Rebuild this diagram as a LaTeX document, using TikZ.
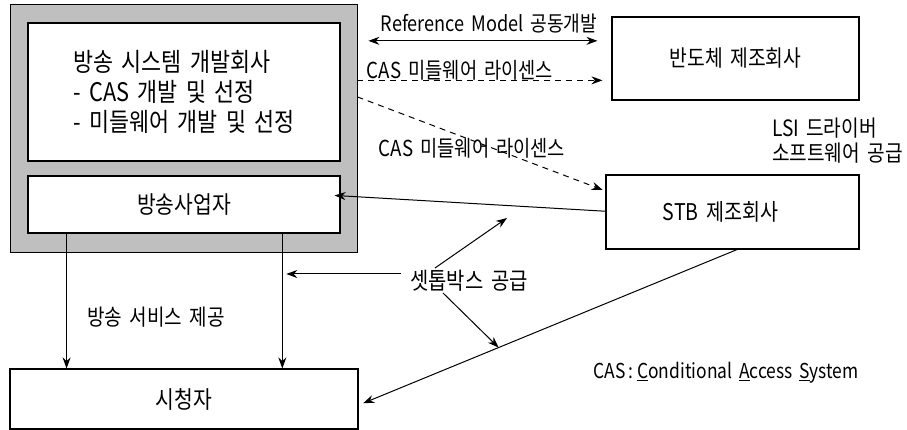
\documentclass[tikz,border=0pt]{standalone}
\usepackage{fontspec}
\setmainfont{Noto Sans CJK KR}[FakeStretch=0.85, WordSpace=1.7]
\usetikzlibrary{arrows.meta,calc}

\begin{document}
\begin{tikzpicture}[x=1pt,y=-1pt,
  box/.style={draw, line width=1.1pt, fill=white, inner sep=0pt},
  shade/.style={draw, line width=0.8pt, fill=black!25, inner sep=0pt},
  txt/.style={inner sep=0pt},
  fs/.style={font=\fontsize{#1}{#1}\selectfont},
  arr/.style={line width=1pt, -{Stealth[length=11pt,width=8pt]}},
  dbl/.style={line width=1pt, {Stealth[length=11pt,width=8pt]}-{Stealth[length=11pt,width=8pt]}},
  dsh/.style={line width=1pt, dash pattern=on 6pt off 5pt, -{Stealth[length=11pt,width=8pt]}}
]
\useasboundingbox (0,0) rectangle (907,430);
\fill[white] (0,0) rectangle (907,430);

% broadcasting side: shaded frame with two boxes
\node[shade, minimum width=347pt, minimum height=248pt] (frame) at (183.5,128) {};
\node[box, minimum width=312pt, minimum height=138pt, align=left,
      font=\fontsize{25.6}{30}\selectfont] (sys) at (184,92)
  {방송 시스템 개발회사\\- CAS 개발 및 선정\\- 미들웨어 개발 및 선정};
\node[box, minimum width=312pt, minimum height=57pt, fs=24] (bcast) at (184,204.5) {방송사업자};

% other parties
\node[box, minimum width=247pt, minimum height=83pt, fs=22.7] (semi) at (735.5,58.5) {반도체 제조회사};
\node[box, minimum width=253pt, minimum height=74pt, fs=23] (stb) at (732.5,212) {STB 제조회사\hspace*{24pt}};
\node[box, minimum width=348pt, minimum height=60pt, fs=24] (viewer) at (184,399) {시청자};

% joint development
\coordinate (rmR) at ($(semi.north west)!0.29!(semi.south west)$);
\draw[dbl, shorten <=11pt, shorten >=14pt] (frame.east |- rmR) -- (rmR);
\node[txt, fs=21.3] (rmlbl) at (489,24) {Reference Model 공동개발};

% licence to the chip maker
\coordinate (licR) at ($(semi.north west)!0.76!(semi.south west)$);
\draw[dsh, shorten >=9pt] (frame.east |- licR) -- (licR);
\node[txt, fs=22] (liclbl) at (460,70) {CAS 미들웨어 라이센스};

% licence to the set-top box maker
\coordinate (dA) at ($(frame.north east)!0.375!(frame.south east)$);
\coordinate (dB) at ($(stb.north west)!0.22!(stb.south west)$);
\draw[dsh, shorten >=3pt] (dA) -- (dB);
\node[txt, fs=22] (lic2lbl) at (472,148) {CAS 미들웨어 라이센스};

% set-top box maker back to the broadcaster
\coordinate (rA) at ($(stb.north west)!0.49!(stb.south west)$);
\coordinate (rB) at ($(bcast.north east)!0.35!(bcast.south east)$);
\draw[arr, shorten >=-6pt] (rA) -- (rB);

% service to the viewer
\coordinate (v1) at ($(bcast.south west)!0.125!(bcast.south east)$);
\coordinate (v2) at ($(bcast.south west)!0.814!(bcast.south east)$);
\draw[arr] (v1) -- (v1 |- viewer.north);
\draw[arr] (v2) -- (v2 |- viewer.north);
\node[txt, fs=22.4] (svclbl) at (156,317) {방송 서비스 제공};

% set-top box maker to the viewer
\coordinate (sA) at ($(stb.south west)!0.518!(stb.south east)$);
\coordinate (sB) at ($(viewer.north east)!0.6!(viewer.south east)$);
\draw[arr, shorten >=5pt] (sA) -- (sB);
\coordinate (hit) at ($(sA)!0.63!(sB)$);

% set-top box supply
\node[txt, fs=23.4] (supply) at (469,281) {셋톱박스 공급};
\coordinate (sL) at ([xshift=-9pt,yshift=7pt]supply.west);
\draw[arr, shorten >=4pt] (sL) -- (v2 |- sL);
\coordinate (sU) at ([xshift=-34pt,yshift=13pt]supply.center);
\coordinate (upEnd) at (507,218);
\draw[arr] (sU) -- (upEnd);
\coordinate (sD) at ([xshift=-26pt,yshift=-12pt]supply.center);
\draw[arr] (sD) -- (hit);

% driver software note
\node[txt, anchor=west, align=left, font=\fontsize{22.5}{25}\selectfont] (lsi) at (772,140.5)
  {LSI 드라이버\\소프트웨어 공급};

% legend
\node[txt, fs=20.5] (legend) at (726,373)
  {CAS\,:\,\underline{C}onditional \underline{A}ccess \underline{S}ystem};
\end{tikzpicture}
\end{document}
